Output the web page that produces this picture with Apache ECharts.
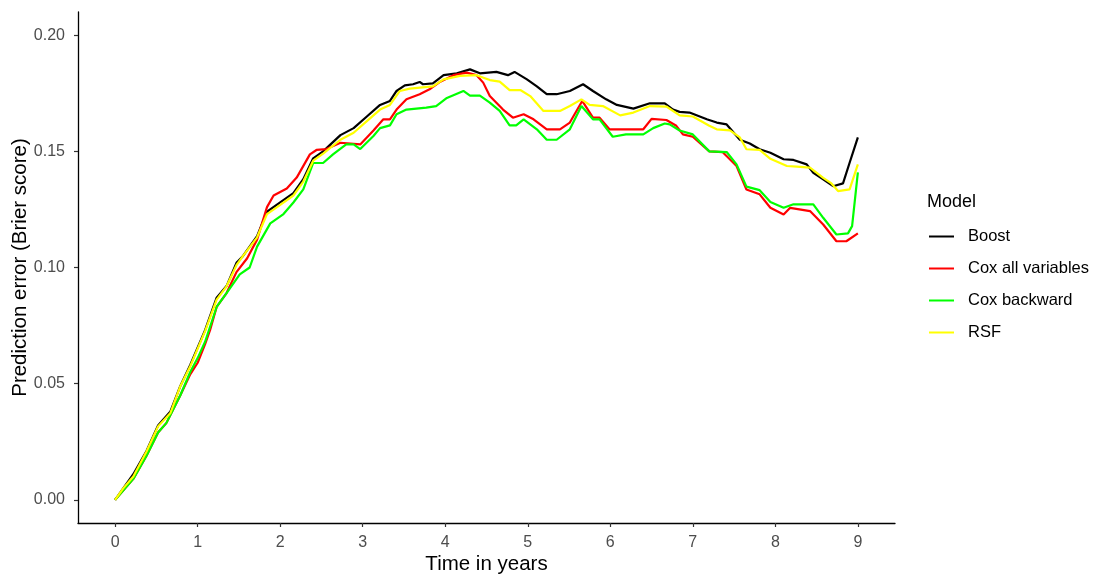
<!DOCTYPE html>
<html>
<head>
<meta charset="utf-8">
<script src="https://cdn.jsdelivr.net/npm/echarts@6/dist/echarts.min.js"></script>
<style>html,body{margin:0;padding:0;background:#fff}#c{width:1094px;height:577px}</style>
</head>
<body>
<div id="c"></div>
<script>
var seriesNames = ['Boost', 'Cox all variables', 'Cox backward', 'RSF'];
var xTicks = [0, 1, 2, 3, 4, 5, 6, 7, 8, 9];
var yTicks = [0, 0.05, 0.10, 0.15, 0.20];

var boostT = [0, 0.1, 0.22, 0.38, 0.52, 0.67, 0.79, 0.91, 1.09, 1.23, 1.35, 1.47, 1.55, 1.72, 1.84, 2.0, 2.16, 2.28, 2.40, 2.52, 2.73, 2.89, 3.05, 3.21, 3.33, 3.41, 3.51, 3.61, 3.69, 3.73, 3.85, 3.98, 4.14, 4.30, 4.42, 4.62, 4.76, 4.84, 4.99, 5.11, 5.23, 5.35, 5.51, 5.67, 5.79, 5.95, 6.08, 6.28, 6.48, 6.66, 6.76, 6.84, 6.96, 7.17, 7.29, 7.41, 7.57, 7.69, 7.81, 7.94, 8.10, 8.22, 8.38, 8.46, 8.58, 8.70, 8.82, 8.90, 9.0];
var boostV = [0, 0.005, 0.011, 0.021, 0.032, 0.038, 0.049, 0.058, 0.073, 0.087, 0.092, 0.102, 0.105, 0.1135, 0.124, 0.128, 0.132, 0.138, 0.147, 0.150, 0.157, 0.160, 0.165, 0.170, 0.1717, 0.176, 0.1784, 0.1789, 0.1799, 0.1789, 0.1793, 0.1828, 0.1836, 0.1853, 0.1836, 0.1842, 0.1828, 0.1842, 0.181, 0.178, 0.1746, 0.1746, 0.176, 0.1789, 0.176, 0.1724, 0.170, 0.1684, 0.1707, 0.1707, 0.168, 0.167, 0.1667, 0.1638, 0.1624, 0.1616, 0.155, 0.1534, 0.1509, 0.1494, 0.1466, 0.1463, 0.1444, 0.1408, 0.138, 0.135, 0.1362, 0.1451, 0.156];

var coxAllT = [0, 0.22, 0.38, 0.52, 0.62, 0.79, 0.91, 1.0, 1.09, 1.15, 1.23, 1.35, 1.47, 1.6, 1.72, 1.84, 1.92, 2.08, 2.20, 2.36, 2.44, 2.56, 2.73, 2.97, 3.13, 3.25, 3.33, 3.41, 3.53, 3.69, 3.81, 3.94, 4.10, 4.26, 4.38, 4.46, 4.54, 4.70, 4.82, 4.95, 5.07, 5.23, 5.39, 5.51, 5.66, 5.79, 5.87, 5.99, 6.40, 6.50, 6.68, 6.80, 6.88, 7.00, 7.20, 7.36, 7.53, 7.65, 7.81, 7.94, 8.10, 8.18, 8.42, 8.58, 8.74, 8.86, 9.0];
var coxAllV = [0, 0.009, 0.019, 0.029, 0.033, 0.045, 0.054, 0.059, 0.067, 0.073, 0.083, 0.089, 0.098, 0.104, 0.112, 0.126, 0.131, 0.134, 0.1387, 0.1487, 0.1506, 0.151, 0.1537, 0.153, 0.159, 0.1638, 0.1638, 0.168, 0.1724, 0.1746, 0.1767, 0.180, 0.1828, 0.1839, 0.1828, 0.1796, 0.1738, 0.168, 0.1645, 0.166, 0.1638, 0.1595, 0.1595, 0.1624, 0.1717, 0.1645, 0.1645, 0.1595, 0.1595, 0.164, 0.1635, 0.161, 0.1573, 0.1563, 0.150, 0.1497, 0.1437, 0.1336, 0.1315, 0.1257, 0.1228, 0.1257, 0.1243, 0.1185, 0.1113, 0.1113, 0.1147];

var coxBackT = [0, 0.22, 0.38, 0.52, 0.62, 0.79, 0.91, 1.0, 1.09, 1.23, 1.35, 1.51, 1.63, 1.72, 1.88, 2.04, 2.16, 2.28, 2.40, 2.52, 2.64, 2.80, 2.89, 2.97, 3.13, 3.21, 3.33, 3.41, 3.53, 3.77, 3.89, 4.02, 4.22, 4.30, 4.42, 4.54, 4.66, 4.78, 4.86, 4.95, 5.11, 5.23, 5.35, 5.51, 5.65, 5.79, 5.87, 6.03, 6.19, 6.40, 6.52, 6.66, 6.72, 6.84, 7.00, 7.20, 7.41, 7.53, 7.65, 7.81, 7.94, 8.10, 8.22, 8.46, 8.58, 8.74, 8.88, 8.93, 9.0];
var coxBackV = [0, 0.009, 0.019, 0.029, 0.033, 0.045, 0.055, 0.061, 0.068, 0.083, 0.089, 0.097, 0.100, 0.109, 0.119, 0.123, 0.128, 0.1336, 0.145, 0.145, 0.1487, 0.153, 0.153, 0.151, 0.1566, 0.160, 0.1612, 0.166, 0.168, 0.1688, 0.1695, 0.173, 0.176, 0.174, 0.174, 0.171, 0.1674, 0.1612, 0.1612, 0.1638, 0.1595, 0.155, 0.155, 0.1595, 0.1695, 0.1638, 0.1638, 0.1563, 0.1573, 0.1573, 0.160, 0.162, 0.1616, 0.159, 0.1573, 0.150, 0.1497, 0.1444, 0.1348, 0.1333, 0.1282, 0.1257, 0.1272, 0.1272, 0.1214, 0.1142, 0.1147, 0.1178, 0.141];

var rsfT = [0, 0.1, 0.22, 0.38, 0.52, 0.67, 0.79, 0.91, 1.09, 1.23, 1.35, 1.47, 1.55, 1.72, 1.84, 2.0, 2.16, 2.28, 2.40, 2.52, 2.73, 2.89, 3.05, 3.21, 3.33, 3.45, 3.57, 3.85, 3.98, 4.18, 4.38, 4.54, 4.66, 4.78, 4.91, 5.03, 5.19, 5.39, 5.51, 5.65, 5.75, 5.91, 6.12, 6.28, 6.48, 6.68, 6.84, 7.00, 7.20, 7.29, 7.45, 7.57, 7.65, 7.81, 7.94, 8.14, 8.26, 8.42, 8.58, 8.68, 8.76, 8.90, 9.0];
var rsfV = [0, 0.005, 0.010, 0.0208, 0.0316, 0.0374, 0.0489, 0.0575, 0.0726, 0.0862, 0.0919, 0.101, 0.105, 0.113, 0.123, 0.127, 0.131, 0.137, 0.146, 0.149, 0.155, 0.158, 0.163, 0.168, 0.170, 0.176, 0.177, 0.178, 0.181, 0.1825, 0.1828, 0.1807, 0.180, 0.1764, 0.1764, 0.1738, 0.1674, 0.1674, 0.1695, 0.1724, 0.170, 0.1695, 0.1655, 0.1667, 0.1695, 0.1693, 0.1655, 0.165, 0.161, 0.1595, 0.159, 0.156, 0.1509, 0.1506, 0.1468, 0.1437, 0.1434, 0.143, 0.1386, 0.1362, 0.1329, 0.1336, 0.1444];

var colors = ['#000000', '#FF0000', '#00FF00', '#FFFF00'];

function pairs(t, v) { return t.map(function (x, i) { return [x, v[i]]; }); }
var allData = [pairs(boostT, boostV), pairs(coxAllT, coxAllV), pairs(coxBackT, coxBackV), pairs(rsfT, rsfV)];

var chart = echarts.init(document.getElementById('c'), null, { renderer: 'canvas' });
var font = 'Liberation Sans, Arial, sans-serif';
chart.setOption({
  animation: false,
  backgroundColor: '#ffffff',
  title: {
    text: 'Model', left: 927, top: 193, padding: 0,
    textStyle: { fontFamily: font, fontSize: 18, fontWeight: 'normal', color: '#000' }
  },
  legend: {
    orient: 'vertical', left: 929, top: 226, padding: 0,
    itemWidth: 25, itemHeight: 2, itemGap: 11,
    icon: 'rect',
    data: seriesNames,
    textStyle: { fontFamily: font, fontSize: 16.5, color: '#000', lineHeight: 18, padding: [3, 0, 0, 9] }
  },
  grid: { left: 78, right: 199, top: 12, bottom: 54, containLabel: false, outerBoundsMode: 'none' },
  xAxis: {
    type: 'value', min: -0.45, max: 9.45,
    name: 'Time in years', nameLocation: 'middle', nameGap: 31, nameMoveOverlap: false,
    nameTextStyle: { fontFamily: font, fontSize: 20.5, color: '#000' },
    axisLine: { show: true, onZero: false, lineStyle: { color: '#000', width: 1.3 } },
    axisTick: { show: true, length: 4, customValues: xTicks, lineStyle: { color: '#333', width: 1.2 } },
    axisLabel: { customValues: xTicks, margin: 12, fontFamily: font, fontSize: 16, color: '#4d4d4d' },
    splitLine: { show: false }
  },
  yAxis: {
    type: 'value', min: -0.01, max: 0.21,
    name: 'Prediction error (Brier score)', nameLocation: 'middle', nameGap: 47, nameMoveOverlap: false,
    nameTextStyle: { fontFamily: font, fontSize: 20.5, color: '#000' },
    axisLine: { show: true, onZero: false, lineStyle: { color: '#000', width: 1.3 } },
    axisTick: { show: true, length: 4, customValues: yTicks, lineStyle: { color: '#333', width: 1.2 } },
    axisLabel: { customValues: yTicks, margin: 13, fontFamily: font, fontSize: 16, color: '#4d4d4d',
      formatter: function (v) { return v.toFixed(2); } },
    splitLine: { show: false }
  },
  series: seriesNames.map(function (n, i) {
    return {
      name: n, type: 'line', data: allData[i], showSymbol: false, symbol: 'none',
      color: colors[i],
      lineStyle: { color: colors[i], width: 2.2 },
      itemStyle: { color: colors[i] },
      z: 2 + i
    };
  })
});
</script>
</body>
</html>
